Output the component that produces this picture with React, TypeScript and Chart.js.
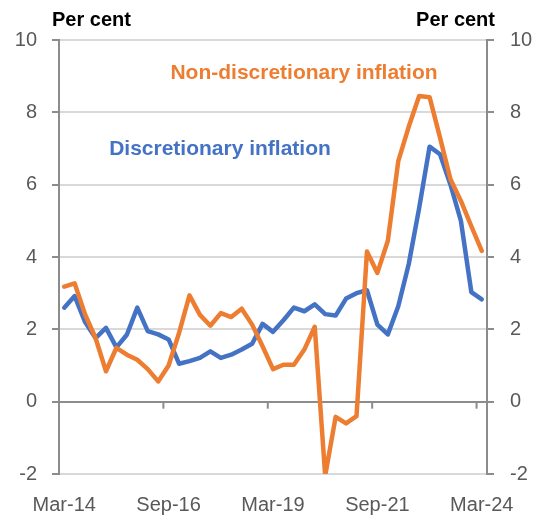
import React, { useEffect, useRef } from "react";
import { Chart, registerables } from "chart.js";

Chart.register(...registerables);

const quarters: string[] = [
  "Mar-14", "Jun-14", "Sep-14", "Dec-14",
  "Mar-15", "Jun-15", "Sep-15", "Dec-15",
  "Mar-16", "Jun-16", "Sep-16", "Dec-16",
  "Mar-17", "Jun-17", "Sep-17", "Dec-17",
  "Mar-18", "Jun-18", "Sep-18", "Dec-18",
  "Mar-19", "Jun-19", "Sep-19", "Dec-19",
  "Mar-20", "Jun-20", "Sep-20", "Dec-20",
  "Mar-21", "Jun-21", "Sep-21", "Dec-21",
  "Mar-22", "Jun-22", "Sep-22", "Dec-22",
  "Mar-23", "Jun-23", "Sep-23", "Dec-23",
  "Mar-24",
];

const shownLabels: string[] = ["Mar-14", "Sep-16", "Mar-19", "Sep-21", "Mar-24"];

const discretionary: number[] = [
  2.6, 2.92, 2.2, 1.76, 2.04, 1.5, 1.85, 2.6, 1.95, 1.86,
  1.72, 1.05, 1.12, 1.21, 1.39, 1.21, 1.3, 1.44, 1.6, 2.15,
  1.93, 2.25, 2.6, 2.5, 2.69, 2.42, 2.38, 2.85, 3.0, 3.08,
  2.13, 1.86, 2.64, 3.8, 5.35, 7.05, 6.84, 6.0, 5.0, 3.03,
  2.83,
];

const nonDiscretionary: number[] = [
  3.18, 3.27, 2.41, 1.76, 0.84, 1.49, 1.3, 1.16, 0.9, 0.56,
  1.0, 1.9, 2.94, 2.4, 2.1, 2.45, 2.34, 2.57, 2.13, 1.53,
  0.9, 1.02, 1.02, 1.44, 2.07, -2.05, -0.42, -0.6, -0.4, 4.15,
  3.56, 4.45, 6.65, 7.6, 8.45, 8.42, 7.3, 6.15, 5.55, 4.85,
  4.17,
];

const yTicks: number[] = [-2, 0, 2, 4, 6, 8, 10];

const ORANGE = "#ED7D31";
const BLUE = "#4472C4";
const AXIS = "#8c8c8c";
const GRID = "#d9d9d9";
const TEXT = "#595959";
const FONT = "'Liberation Sans', Arial, sans-serif";

const overlayPlugin = {
  id: "overlay",
  beforeDatasetsDraw(chart: any) {
    const { ctx, scales } = chart;
    const x = scales.x;
    const y = scales.y;
    const y0 = y.getPixelForValue(0);
    ctx.save();
    ctx.strokeStyle = AXIS;
    ctx.lineWidth = 2;
    for (let i = 9; i < quarters.length - 1; i += 10) {
      const px = (x.getPixelForValue(i) + x.getPixelForValue(i + 1)) / 2;
      ctx.beginPath();
      ctx.moveTo(px, y0);
      ctx.lineTo(px, y0 + 7);
      ctx.stroke();
    }
    ctx.restore();
  },
  afterDraw(chart: any) {
    const { ctx, chartArea } = chart;
    ctx.save();
    ctx.fillStyle = "#000";
    ctx.font = `bold 20px ${FONT}`;
    ctx.textBaseline = "alphabetic";
    ctx.textAlign = "left";
    ctx.fillText("Per cent", chartArea.left - 7, 26);
    ctx.textAlign = "right";
    ctx.fillText("Per cent", chartArea.right + 8, 26);

    ctx.font = `bold 21px ${FONT}`;
    ctx.textAlign = "center";
    ctx.textBaseline = "middle";
    ctx.fillStyle = ORANGE;
    ctx.fillText("Non-discretionary inflation", chartArea.left + 245, 73);
    ctx.fillStyle = BLUE;
    ctx.fillText("Discretionary inflation", chartArea.left + 161, 149);
    ctx.restore();
  },
};

export default function App() {
  const ref = useRef<HTMLCanvasElement>(null);

  useEffect(() => {
    if (!ref.current) return;
    const chart = new Chart(ref.current, {
      type: "line",
      data: {
        labels: quarters,
        datasets: [
          {
            label: "Non-discretionary inflation",
            data: nonDiscretionary,
            borderColor: ORANGE,
            backgroundColor: ORANGE,
            borderWidth: 4.5,
            pointRadius: 0,
            tension: 0,
            borderJoinStyle: "round",
            borderCapStyle: "round",
            yAxisID: "y",
          },
          {
            label: "Discretionary inflation",
            data: discretionary,
            borderColor: BLUE,
            backgroundColor: BLUE,
            borderWidth: 4.5,
            pointRadius: 0,
            tension: 0,
            borderJoinStyle: "round",
            borderCapStyle: "round",
            yAxisID: "y",
          },
        ],
      },
      options: {
        animation: false,
        responsive: true,
        maintainAspectRatio: false,
        layout: { padding: { left: 0, right: 0, top: 40, bottom: 0 } },
        plugins: {
          legend: { display: false },
          tooltip: { enabled: false },
          title: { display: false },
        },
        scales: {
          x: {
            type: "category",
            offset: true,
            grid: { display: false, drawTicks: false },
            border: { display: false },
            ticks: {
              autoSkip: false,
              maxRotation: 0,
              padding: 19,
              color: TEXT,
              font: { family: FONT, size: 20 },
              callback: (_v: any, i: number) =>
                shownLabels.includes(quarters[i]) ? quarters[i] : null,
            },
            afterFit: (s: any) => {
              s.height = 42;
            },
          },
          y: {
            position: "left",
            min: -2,
            max: 10,
            afterBuildTicks: (s: any) => {
              s.ticks = yTicks.map((v) => ({ value: v }));
            },
            grid: {
              color: (c: any) => (c.tick && c.tick.value === 0 ? AXIS : GRID),
              lineWidth: 2,
              tickColor: AXIS,
              tickLength: 7,
              drawTicks: true,
            },
            border: { display: true, color: AXIS, width: 2 },
            ticks: {
              padding: 15,
              color: TEXT,
              font: { family: FONT, size: 20 },
            },
            afterFit: (s: any) => {
              s.width = 59;
            },
          },
          y2: {
            position: "right",
            min: -2,
            max: 10,
            afterBuildTicks: (s: any) => {
              s.ticks = yTicks.map((v) => ({ value: v }));
            },
            grid: {
              drawOnChartArea: false,
              tickColor: AXIS,
              tickLength: 7,
              lineWidth: 2,
              drawTicks: true,
            },
            border: { display: true, color: AXIS, width: 2 },
            ticks: {
              padding: 16,
              color: TEXT,
              font: { family: FONT, size: 20 },
            },
            afterFit: (s: any) => {
              s.width = 51;
            },
          },
        },
      },
      plugins: [overlayPlugin],
    });
    return () => chart.destroy();
  }, []);

  return (
    <div style={{ position: "fixed", left: 0, top: 0, width: 538, height: 516, background: "#fff" }}>
      <canvas ref={ref} />
    </div>
  );
}
